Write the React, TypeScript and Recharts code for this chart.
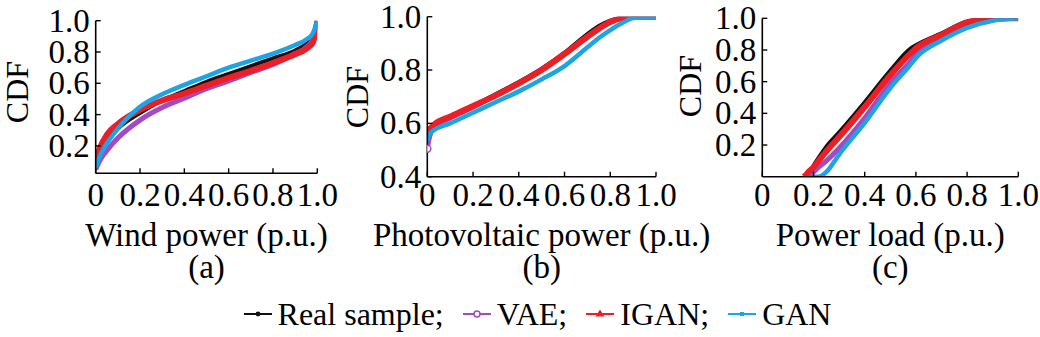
import React from 'react';
import { LineChart, Line, XAxis, YAxis, Legend, Label } from 'recharts';

const FONT = "'Liberation Serif', 'Times New Roman', Times, serif";

// (a) wind power: x in p.u., CDF of each model
const windX = [0, 0.02, 0.05, 0.1, 0.2, 0.3, 0.4, 0.5, 0.6, 0.7, 0.8, 0.9, 0.95, 0.98, 1.0];
const windReal = [0.06, 0.15, 0.23, 0.31, 0.41, 0.49, 0.55, 0.61, 0.66, 0.71, 0.76, 0.81, 0.85, 0.89, 1.0];
const windVae = [0.05, 0.11, 0.17, 0.25, 0.365, 0.445, 0.505, 0.565, 0.615, 0.67, 0.72, 0.79, 0.83, 0.88, 1.0];
const windIgan = [0.1, 0.19, 0.27, 0.34, 0.43, 0.49, 0.535, 0.585, 0.635, 0.68, 0.73, 0.785, 0.82, 0.86, 1.0];
const windGan = [0.06, 0.14, 0.215, 0.31, 0.45, 0.53, 0.59, 0.645, 0.7, 0.745, 0.79, 0.845, 0.88, 0.92, 1.0];

// (b) photovoltaic power
const pvX = [0, 0.01, 0.03, 0.1, 0.2, 0.3, 0.4, 0.5, 0.6, 0.7, 0.75, 0.8, 0.85, 0.9, 1.0];
const pvReal = [0.565, 0.58, 0.595, 0.625, 0.665, 0.71, 0.755, 0.805, 0.865, 0.935, 0.965, 0.985, 0.997, 1.0, 1.0];
const pvVae = [0.505, 0.55, 0.585, 0.62, 0.66, 0.705, 0.75, 0.8, 0.86, 0.925, 0.955, 0.98, 0.995, 1.0, 1.0];
const pvIgan = [0.545, 0.575, 0.595, 0.625, 0.665, 0.705, 0.75, 0.8, 0.86, 0.925, 0.955, 0.98, 0.995, 1.0, 1.0];
const pvGan = [0.535, 0.56, 0.575, 0.6, 0.64, 0.68, 0.72, 0.765, 0.815, 0.885, 0.92, 0.95, 0.975, 0.995, 1.0];

// (c) power load
const loadX = [0.16, 0.17, 0.18, 0.2, 0.22, 0.25, 0.3, 0.4, 0.5, 0.58, 0.6, 0.7, 0.8, 0.9, 1.0];
const loadReal = [null, null, 0, 0.07, 0.12, 0.19, 0.28, 0.47, 0.67, 0.81, 0.83, 0.905, 0.98, 1.0, 1.0];
const loadVae = [null, 0, 0, 0.03, 0.06, 0.1, 0.18, 0.37, 0.59, 0.73, 0.77, 0.87, 0.95, 0.99, 1.0];
const loadIgan = [0, 0.01, 0.03, 0.06, 0.1, 0.16, 0.25, 0.44, 0.64, 0.78, 0.81, 0.895, 0.975, 1.0, 1.0];
const loadGan = [null, null, null, 0, 0, 0.03, 0.14, 0.34, 0.56, 0.71, 0.75, 0.86, 0.94, 0.985, 1.0];

const xTicks = [0, 0.2, 0.4, 0.6, 0.8, 1.0];
const yTicksFull = [0.2, 0.4, 0.6, 0.8, 1.0];
const yTicksPv = [0.4, 0.6, 0.8, 1.0];

const SERIES = [
  { key: 'real', name: 'Real sample;', color: '#111111', width: 4 },
  { key: 'vae', name: 'VAE;', color: '#a34ac2', width: 5 },
  { key: 'igan', name: 'IGAN;', color: '#ec1f27', width: 6 },
  { key: 'gan', name: 'GAN', color: '#1da4e4', width: 4.5 },
];

const toRows = (xs: number[], real: any[], vae: any[], igan: any[], gan: any[]) =>
  xs.map((x, i) => ({ x, real: real[i], vae: vae[i], igan: igan[i], gan: gan[i] }));

const H = 337;
const FS = 33;
const TICK_BASE = 206;
const TITLE_BASE = 246;
const TAG_BASE = 278;
const txt = { fontFamily: FONT };

function XTick(props: any) {
  const { x, y, payload } = props;
  const v = payload.value;
  return (
    <g>
      <line x1={x} x2={x} y1={y} y2={y - 5} stroke="#000" strokeWidth={1.4} />
      <text x={x} y={TICK_BASE} textAnchor="middle" style={txt} fontSize={FS} fill="#000">
        {v === 0 ? '0' : v.toFixed(1)}
      </text>
    </g>
  );
}

function YTick(props: any) {
  const { x, y, payload } = props;
  return (
    <g>
      <line x1={x} x2={x + 5} y1={y} y2={y} stroke="#000" strokeWidth={1.4} />
      <text x={x - 6} y={y + 11} textAnchor="end" style={txt} fontSize={FS} fill="#000">
        {payload.value.toFixed(1)}
      </text>
    </g>
  );
}

function LegendMarker({ k, color }: { k: string; color: string }) {
  return (
    <svg width={30} height={14} style={{ display: 'block' }}>
      <line x1={1} x2={29} y1={7} y2={7} stroke={color} strokeWidth={2} />
      {k === 'real' && <circle cx={15} cy={7} r={2.4} fill={color} />}
      {k === 'vae' && <circle cx={15} cy={7} r={3} fill="#fff" stroke={color} strokeWidth={1.5} />}
      {k === 'igan' && <polygon points="15,2.5 19.5,9.5 10.5,9.5" fill={color} />}
      {k === 'gan' && <rect x={13} y={5} width={4} height={4} fill={color} />}
    </svg>
  );
}

function LegendContent() {
  return (
    <div
      style={{
        display: 'flex',
        justifyContent: 'center',
        alignItems: 'center',
        height: 40,
        lineHeight: '40px',
        fontFamily: FONT,
        fontSize: 32,
        color: '#000',
        whiteSpace: 'nowrap',
        gap: 18,
      }}
    >
      {SERIES.map((s) => (
        <div key={s.key} style={{ display: 'flex', alignItems: 'center', gap: 5 }}>
          <LegendMarker k={s.key} color={s.color} />
          <span>{s.name}</span>
        </div>
      ))}
    </div>
  );
}

type Box = { x0: number; x1: number; y0: number; y1: number };

interface PanelProps {
  left: number;
  width: number;
  rows: any[];
  box: Box;
  yDomain: [number, number];
  yTicks: number[];
  xTitle: string;
  tag: string;
  cdf: { x: number; y: number };
  startMarker?: string;
  children?: React.ReactNode;
}

function Panel({ left, width, rows, box, yDomain, yTicks, xTitle, tag, cdf, startMarker, children }: PanelProps) {
  const YW = 50;
  const XH = 30;
  const margin = {
    left: box.x0 - left - YW,
    right: left + width - box.x1,
    top: box.y0,
    bottom: H - box.y1 - XH,
  };
  const cx = (box.x0 + box.x1) / 2 - left;

  return (
    <div style={{ position: 'absolute', left, top: 0 }}>
      <LineChart width={width} height={H} data={rows} margin={margin}>
        <XAxis
          type="number"
          dataKey="x"
          domain={[0, 1]}
          ticks={xTicks}
          interval={0}
          allowDataOverflow
          height={XH}
          axisLine={{ stroke: '#000', strokeWidth: 1.6 }}
          tickLine={false}
          tickSize={0}
          tickMargin={0}
          tick={<XTick />}
        >
          <Label
            content={() => (
              <g>
                <text x={cx} y={TITLE_BASE} textAnchor="middle" style={txt} fontSize={FS} fill="#000">
                  {xTitle}
                </text>
                <text x={cx} y={TAG_BASE} textAnchor="middle" style={txt} fontSize={FS} fill="#000">
                  {tag}
                </text>
              </g>
            )}
          />
        </XAxis>
        <YAxis
          type="number"
          domain={yDomain}
          ticks={yTicks}
          interval={0}
          allowDataOverflow
          width={YW}
          axisLine={{ stroke: '#000', strokeWidth: 1.6 }}
          tickLine={false}
          tickSize={0}
          tickMargin={0}
          tick={<YTick />}
        >
          <Label
            content={() => (
              <text
                transform={`translate(${cdf.x - left + 11},${cdf.y}) rotate(-90)`}
                textAnchor="middle"
                style={txt}
                fontSize={32}
                fill="#000"
              >
                CDF
              </text>
            )}
          />
        </YAxis>
        {SERIES.map((s) => (
          <Line
            key={s.key}
            type="monotone"
            dataKey={s.key}
            name={s.name}
            stroke={s.color}
            strokeWidth={s.width}
            dot={
              startMarker === s.key
                ? (p: any) =>
                    p.index === 0 ? (
                      <circle key={p.key} cx={p.cx} cy={p.cy} r={3.5} fill="#fff" stroke={s.color} strokeWidth={1.5} />
                    ) : (
                      <g key={p.key} />
                    )
                : false
            }
            activeDot={false}
            connectNulls={false}
            isAnimationActive={false}
          />
        ))}
        {children}
      </LineChart>
    </div>
  );
}

export default function App() {
  const windRows = toRows(windX, windReal, windVae, windIgan, windGan);
  const pvRows = toRows(pvX, pvReal, pvVae, pvIgan, pvGan);
  const loadRows = toRows(loadX, loadReal, loadVae, loadIgan, loadGan);

  return (
    <div style={{ position: 'absolute', left: 0, top: 0, width: 1040, height: H, background: '#fff' }}>
      <Panel
        left={0}
        width={340}
        rows={windRows}
        box={{ x0: 95.7, x1: 317.3, y0: 20.7, y1: 173.3 }}
        yDomain={[0.025, 1]}
        yTicks={yTicksFull}
        xTitle="Wind power (p.u.)"
        tag="(a)"
        cdf={{ x: 17, y: 92 }}
      />
      <Panel
        left={330}
        width={390}
        rows={pvRows}
        box={{ x0: 427.3, x1: 656, y0: 16.7, y1: 176.7 }}
        yDomain={[0.4, 1]}
        yTicks={yTicksPv}
        xTitle="Photovoltaic power (p.u.)"
        tag="(b)"
        cdf={{ x: 357, y: 97 }}
        startMarker="vae"
      >
        <Legend
          layout="horizontal"
          verticalAlign="middle"
          align="center"
          wrapperStyle={{ left: 237 - 330, top: 294, width: 600, height: 40 }}
          content={<LegendContent />}
        />
      </Panel>
      <Panel
        left={660}
        width={380}
        rows={loadRows}
        box={{ x0: 762.3, x1: 1018.3, y0: 18.3, y1: 176.7 }}
        yDomain={[0, 1]}
        yTicks={yTicksFull}
        xTitle="Power load (p.u.)"
        tag="(c)"
        cdf={{ x: 690, y: 86 }}
      />
    </div>
  );
}
